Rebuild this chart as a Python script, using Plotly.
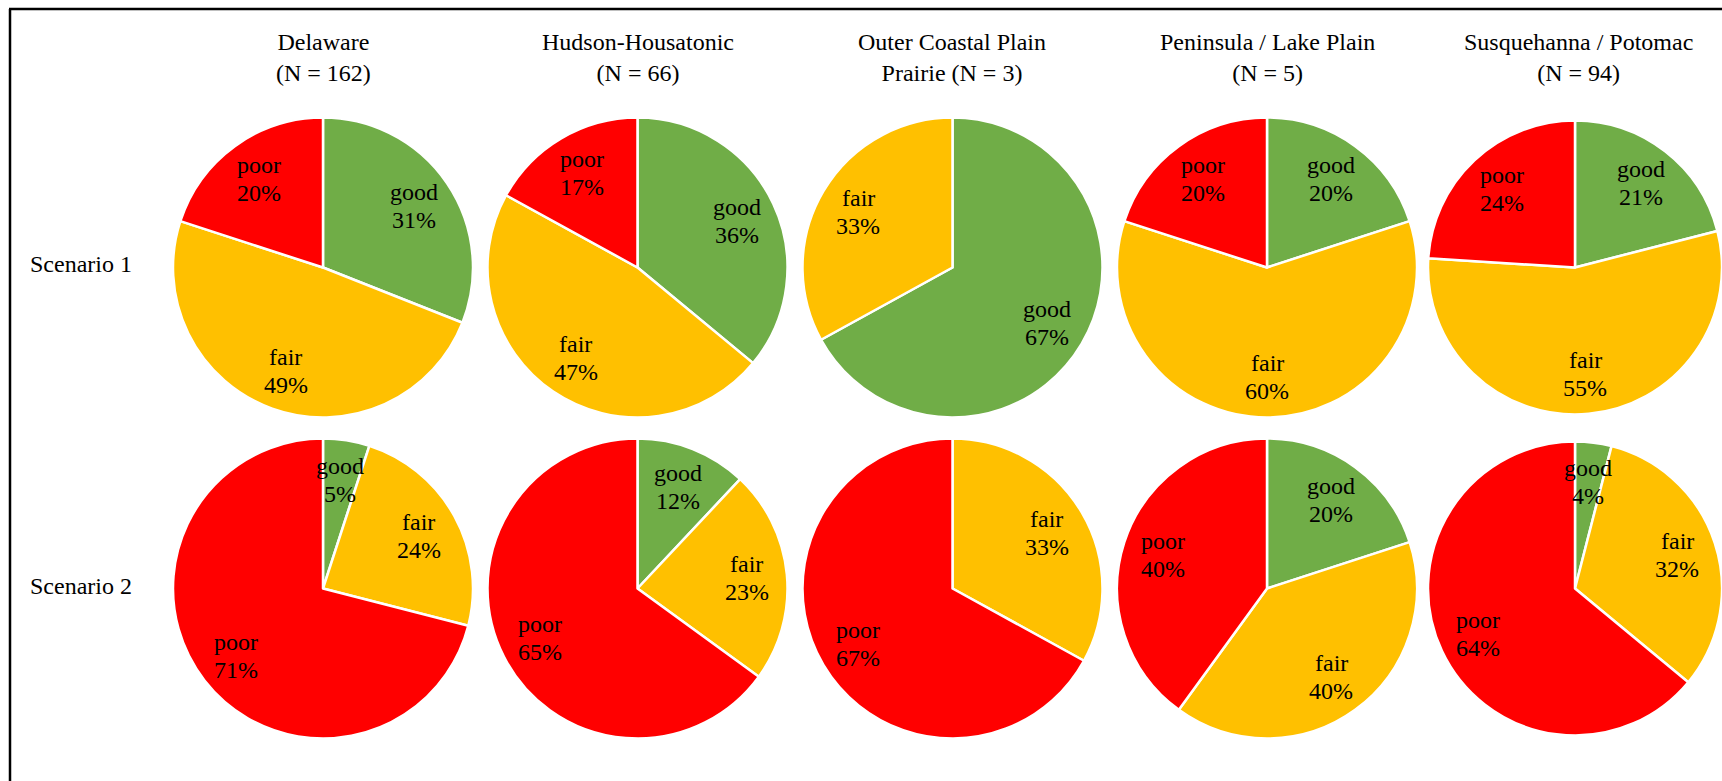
import math
import plotly.graph_objects as go

# ---- data ----
regions = ["Delaware", "Hudson-Housatonic", "Outer Coastal Plain<br>Prairie", "Peninsula / Lake Plain", "Susquehanna / Potomac"]
counts = [162, 66, 3, 5, 94]
categories = ["good", "fair", "poor"]
scenario_labels = ["Scenario 1", "Scenario 2"]
scenario1_good = [31, 36, 67, 20, 21]
scenario1_fair = [49, 47, 33, 60, 55]
scenario1_poor = [20, 17, 0, 20, 24]
scenario2_good = [5, 12, 0, 20, 4]
scenario2_fair = [24, 23, 33, 40, 32]
scenario2_poor = [71, 65, 67, 40, 64]

colors = {"good": "#70AD47", "fair": "#FFC000", "poor": "#FF0000"}

W, H = 1722, 781
col_cx = [323, 637.5, 952.5, 1267, 1578]
row_cy = [267.5, 588.5]
R = 150
FONT = "Times New Roman, Liberation Serif, Tinos, DejaVu Serif, serif"

fig = go.Figure()
annotations = []

scen = [
    (scenario1_good, scenario1_fair, scenario1_poor),
    (scenario2_good, scenario2_fair, scenario2_poor),
]

for ri, (g, f, p) in enumerate(scen):
    cy = row_cy[ri]
    for ci in range(len(regions)):
        cx = col_cx[ci]
        vals_all = [g[ci], f[ci], p[ci]]
        labs = [c for c, v in zip(categories, vals_all) if v > 0]
        vals = [v for v in vals_all if v > 0]
        x0 = max(cx - R, 0)
        x1 = min(cx + R, W)
        half = min(x1 - x0, 2 * R) / 2
        ccx = (x0 + x1) / 2
        rr = half
        fig.add_trace(go.Pie(
            labels=labs, values=vals, sort=False, direction="clockwise",
            marker=dict(colors=[colors[l] for l in labs], line=dict(color="white", width=2.5)),
            textinfo="none", hoverinfo="label+value", showlegend=False,
            domain=dict(x=[x0 / W, x1 / W], y=[1 - (cy + R) / H, 1 - (cy - R) / H]),
        ))
        total = sum(vals)
        cum = 0
        for l, v in zip(labs, vals):
            th = (cum + v / 2) / total * 2 * math.pi
            cum += v
            tx = ccx + 0.73 * rr * math.sin(th)
            ty = cy - 0.73 * rr * math.cos(th)
            for txt, shift in ((l, 14), (f"{v}%", -14)):
                annotations.append(dict(
                    x=tx / W, y=1 - ty / H, xref="paper", yref="paper",
                    text=txt, showarrow=False, yshift=shift,
                    font=dict(family=FONT, size=24, color="black"),
                    xanchor="center", yanchor="middle",
                ))

# column titles
for ci, (name, n) in enumerate(zip(regions, counts)):
    if "<br>" in name:
        txt = name + f" (N = {n})"
    else:
        txt = f"{name}<br>(N = {n})"
    annotations.append(dict(
        x=col_cx[ci] / W, y=1 - 58 / H, xref="paper", yref="paper",
        text=txt, showarrow=False, font=dict(family=FONT, size=24, color="black"),
        xanchor="center", yanchor="middle",
    ))

# row labels
for ri, s in enumerate(scenario_labels):
    annotations.append(dict(
        x=28 / W, y=1 - (row_cy[ri] - 3) / H, xref="paper", yref="paper",
        text=s, showarrow=False, font=dict(family=FONT, size=24, color="black"),
        xanchor="left", yanchor="middle",
    ))

shapes = [
    dict(type="line", xref="paper", yref="paper", x0=9 / W, x1=1, y0=1 - 9 / H, y1=1 - 9 / H,
         line=dict(color="black", width=2.5)),
    dict(type="line", xref="paper", yref="paper", x0=10 / W, x1=10 / W, y0=0, y1=1 - 9 / H,
         line=dict(color="black", width=2.5)),
]

fig.update_layout(
    width=W, height=H, margin=dict(l=0, r=0, t=0, b=0),
    paper_bgcolor="white", plot_bgcolor="white",
    font=dict(family=FONT),
    annotations=annotations, shapes=shapes, showlegend=False,
)

fig.write_html("out.html")
